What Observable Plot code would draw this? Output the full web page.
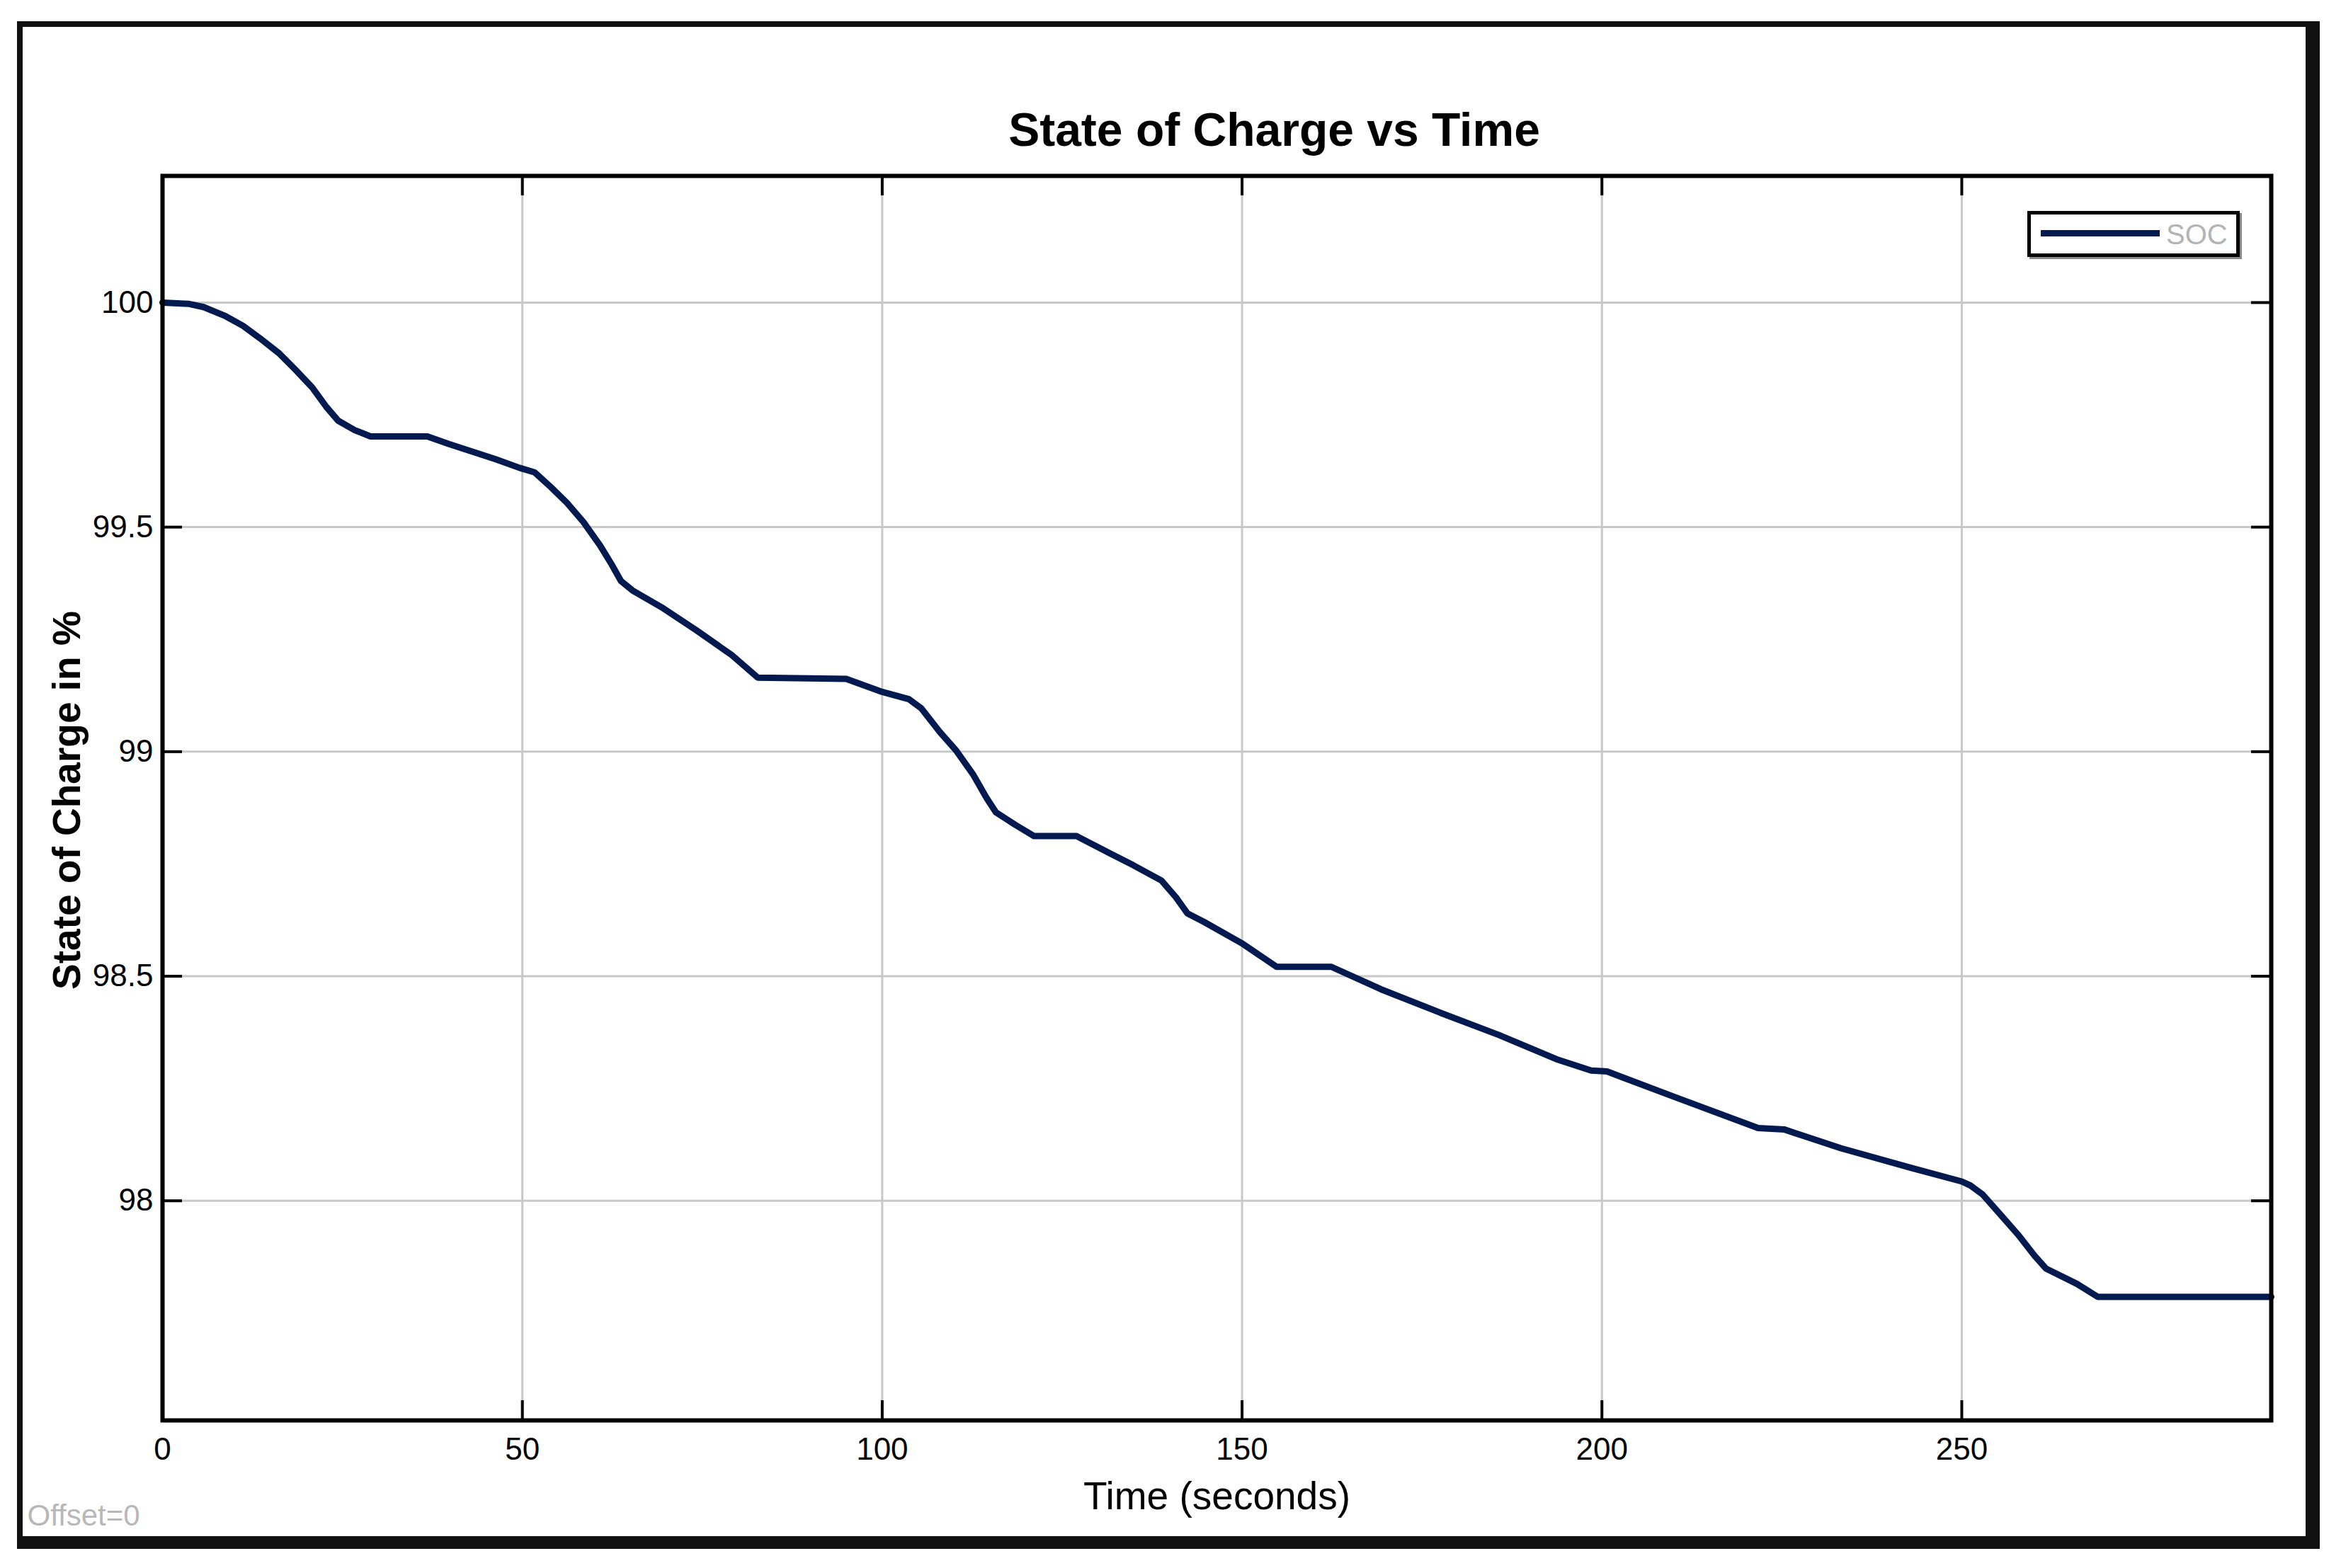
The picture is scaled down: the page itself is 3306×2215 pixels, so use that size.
<!DOCTYPE html>
<html>
<head>
<meta charset="utf-8">
<script src="https://cdn.jsdelivr.net/npm/d3@7"></script>
<script src="https://cdn.jsdelivr.net/npm/@observablehq/plot@0.6"></script>
<style>
  html, body { margin: 0; padding: 0; background: #fff; }
  #wrap { position: relative; width: 3306px; height: 2215px; font-family: "Liberation Sans", Arial, sans-serif; }
  #chart { position: absolute; left: 0; top: 0; }
  #outer { position: absolute; left: 24px; top: 30px; width: 3252px; height: 2158px; box-sizing: border-box;
           border-style: solid; border-color: #111; border-width: 8px 20px 18px 8px; pointer-events: none; }
  #legend { position: absolute; left: 2863px; top: 298px; width: 300px; height: 65px; box-sizing: border-box;
            border: 5px solid #000; box-shadow: 3px 3px 0 #8a8a8a; background: #fff; }
  #legend .swatch { position: absolute; left: 14px; top: 22px; width: 168px; height: 9px; background: #021a4f; }
  #legend .lbl { position: absolute; left: 191px; top: 6px; font-size: 40px; line-height: 44px; color: #b4b4b4; }
</style>
</head>
<body>
<div id="wrap">
  <div id="chart"></div>
  <div id="outer"></div>
  <div id="legend"><div class="swatch"></div><div class="lbl">SOC</div></div>
</div>
<script>
// Time in seconds and state of charge in %
const timeSec = [0, 3.7, 5.7, 8.6, 11.2, 13.5, 16.2, 18.5, 20.8, 22.7, 24.4, 26.7, 28.9, 36.8, 39.8, 46.3,
  49.6, 51.7, 53.9, 56.2, 58.5, 60.8, 62.4, 63.7, 65.3, 69.3, 74.2, 79.1, 82.7, 95.0,
  100, 103.7, 105.4, 108.0, 110.3, 112.6, 114.5, 115.8, 118.5, 121.1, 127.0, 131.6, 134.9, 138.8, 140.8, 142.4, 144.7,
  149.9, 154.8, 162.4, 169.3, 177.5, 185.7, 193.9, 198.5, 200.7, 210.3, 221.7, 225.3, 233.2, 243.0,
  250, 251.2, 252.9, 255.5, 257.8, 260.1, 261.7, 266.0, 268.9, 293];
const socPct = [100.000, 99.997, 99.990, 99.971, 99.948, 99.921, 99.887, 99.850, 99.811, 99.769, 99.737, 99.716, 99.702, 99.702, 99.685, 99.651,
  99.632, 99.622, 99.590, 99.554, 99.511, 99.459, 99.417, 99.380, 99.359, 99.322, 99.270, 99.215, 99.165, 99.162,
  99.133, 99.117, 99.097, 99.044, 99.002, 98.950, 98.897, 98.865, 98.837, 98.812, 98.812, 98.774, 98.747, 98.713, 98.676, 98.640, 98.621,
  98.574, 98.521, 98.521, 98.471, 98.419, 98.369, 98.314, 98.290, 98.288, 98.230, 98.162, 98.159, 98.117, 98.073,
  98.043, 98.034, 98.014, 97.967, 97.925, 97.878, 97.849, 97.815, 97.786, 97.786];
const xTicks = [0, 50, 100, 150, 200, 250];
const yTicks = [98, 98.5, 99, 99.5, 100];
const xDomain = [0, 293];
const yDomain = [97.511, 100.282];
const titleText = "State of Charge vs Time";
const xLabel = "Time (seconds)";
const yLabel = "State of Charge in %";
const offsetNote = "Offset=0";

const data = timeSec.map((t, i) => ({t, soc: socPct[i]}));

const W = 3306, H = 2215;
const mL = 229, mT = 248, mR = 99, mB = 209;
const frameW = W - mL - mR, frameH = H - mT - mB;
const tickLen = 28;

const chart = Plot.plot({
  width: W,
  height: H,
  marginLeft: mL,
  marginTop: mT,
  marginRight: mR,
  marginBottom: mB,
  style: {fontFamily: "'Liberation Sans', Arial, sans-serif", fontSize: "44px", color: "#000", background: "transparent"},
  x: {domain: xDomain},
  y: {domain: yDomain},
  marks: [
    Plot.gridX(xTicks, {stroke: "#c8c8c8", strokeOpacity: 1, strokeWidth: 3}),
    Plot.gridY(yTicks, {stroke: "#c8c8c8", strokeOpacity: 1, strokeWidth: 3}),
    // inward ticks on all four sides
    Plot.ruleX(xTicks, {x: d => d, insetTop: frameH - tickLen, stroke: "#000", strokeWidth: 4}),
    Plot.ruleX(xTicks, {x: d => d, insetBottom: frameH - tickLen, stroke: "#000", strokeWidth: 4}),
    Plot.ruleY(yTicks, {y: d => d, insetRight: frameW - tickLen, stroke: "#000", strokeWidth: 4}),
    Plot.ruleY(yTicks, {y: d => d, insetLeft: frameW - tickLen, stroke: "#000", strokeWidth: 4}),
    Plot.axisX(xTicks, {tickSize: 0, tickPadding: 24, fontSize: 44, label: null, tickFormat: d => String(d)}),
    Plot.axisY(yTicks, {tickSize: 0, tickPadding: 13, fontSize: 44, label: null, tickFormat: d => String(d)}),
    Plot.line(data, {x: "t", y: "soc", stroke: "#021a4f", strokeWidth: 9, strokeLinejoin: "round"}),
    Plot.frame({stroke: "#000", strokeWidth: 6}),
    Plot.text([titleText], {frameAnchor: "top", textAnchor: "middle", dx: 81, dy: -89, fontSize: 66, fontWeight: "bold", fill: "#000"}),
    Plot.text([xLabel], {frameAnchor: "bottom", textAnchor: "middle", dy: 125, fontSize: 55, fill: "#000"}),
    Plot.text([yLabel], {frameAnchor: "left", textAnchor: "middle", dx: -134, dy: 3, rotate: -90, fontSize: 55, fontWeight: "bold", fill: "#000"}),
    Plot.text([offsetNote], {frameAnchor: "bottom-left", textAnchor: "start", dx: -191, dy: 148, fontSize: 42, fill: "#b8b8b8"})
  ]
});
document.getElementById("chart").appendChild(chart);
</script>
</body>
</html>
